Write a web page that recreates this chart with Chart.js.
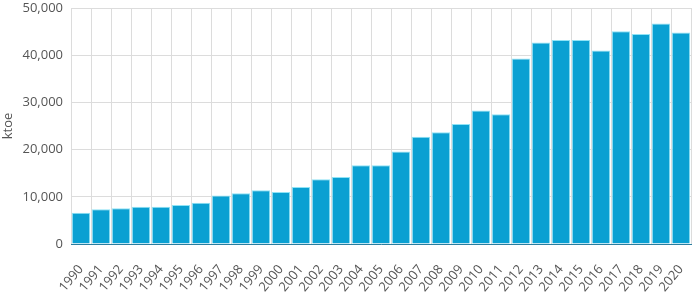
<!DOCTYPE html>
<html>
<head>
<meta charset="utf-8">
<script src="https://cdn.jsdelivr.net/npm/chart.js@4/dist/chart.umd.min.js"></script>
<style>
  html, body { margin: 0; padding: 0; background: #fff; }
  #wrap { width: 692px; height: 302px; }
</style>
</head>
<body>
<div id="wrap"><canvas id="grafica"></canvas></div>
<script>
const years = ['1990','1991','1992','1993','1994','1995','1996','1997','1998','1999',
  '2000','2001','2002','2003','2004','2005','2006','2007','2008','2009',
  '2010','2011','2012','2013','2014','2015','2016','2017','2018','2019','2020'];
const ktoe = [6600, 7350, 7550, 7900, 7900, 8250, 8750, 10300, 10750, 11400,
  11000, 12100, 13700, 14200, 16700, 16700, 19600, 22700, 23700, 25400,
  28300, 27500, 39300, 42700, 43200, 43200, 41000, 45100, 44500, 46700, 44800];
const yTicks = [0, 10000, 20000, 30000, 40000, 50000];

const ctx = document.getElementById('grafica').getContext('2d');
new Chart(ctx, {
  type: 'bar',
  data: {
    labels: years,
    datasets: [{
      label: 'ktoe',
      data: ktoe,
      backgroundColor: '#0aa0d2',
      borderColor: '#8fe3f6',
      borderWidth: 1,
      categoryPercentage: 0.92,
      barPercentage: 1.0
    }]
  },
  options: {
    responsive: true,
    maintainAspectRatio: false,
    animation: false,
    layout: { padding: { top: 8, right: 1, left: 0, bottom: 0 } },
    plugins: {
      legend: { display: false },
      tooltip: { enabled: false }
    },
    scales: {
      x: {
        afterFit: axis => {
          axis.height = 58;
          axis.paddingLeft = 0;
          axis.paddingRight = 0;
        },
        grid: { color: '#dcdcdc', offset: true, drawTicks: false },
        border: { color: '#2a7ea0' },
        ticks: {
          color: '#555',
          font: { family: 'Open Sans', size: 13 },
          minRotation: 50,
          maxRotation: 50,
          autoSkip: false,
          padding: 18
        }
      },
      y: {
        min: 0,
        max: 50000,
        afterBuildTicks: axis => { axis.ticks = yTicks.map(v => ({ value: v })); },
        afterFit: axis => {
          axis.width = 71;
          axis.paddingTop = 0;
          axis.paddingBottom = 0;
        },
        grid: { color: '#dcdcdc', drawTicks: false },
        border: { display: false },
        title: {
          display: true,
          text: 'ktoe',
          color: '#555',
          font: { family: 'Open Sans', size: 13 },
          padding: { top: 0, bottom: 0 }
        },
        ticks: {
          color: '#555',
          font: { family: 'Open Sans', size: 13 },
          padding: 8,
          callback: v => v.toLocaleString('en-US')
        }
      }
    }
  }
});
</script>
</body>
</html>
